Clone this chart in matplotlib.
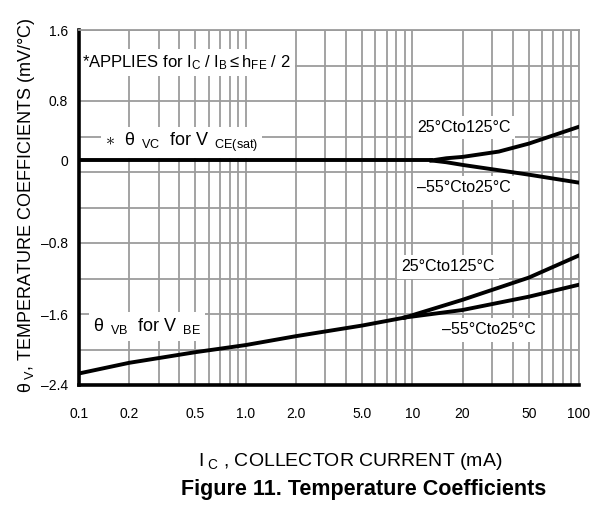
import numpy as np
import matplotlib
matplotlib.use('Agg')
import matplotlib.pyplot as plt
from matplotlib.ticker import FixedLocator, NullFormatter

plt.rcParams['font.family'] = ['Liberation Sans', 'DejaVu Sans']
plt.rcParams['mathtext.fontset'] = 'custom'
plt.rcParams['mathtext.rm'] = 'Liberation Sans'
plt.rcParams['mathtext.it'] = 'Liberation Sans'

# ==========================================
# Data
# ==========================================
# theta_VC for V_CE(sat): common part, then the two temperature branches
ic_vc = [0.1, 0.5, 1.0, 5.0, 10, 13]
vc_common = [0.13, 0.13, 0.13, 0.13, 0.13, 0.13]
ic_vc_branch = [13, 16, 20, 33, 50, 100]
vc_hot = [0.13, 0.155, 0.17, 0.23, 0.32, 0.51]     # 25C to 125C
vc_cold = [0.13, 0.11, 0.08, 0.02, -0.03, -0.12]   # -55C to 25C

# theta_VB for V_BE
ic_vb = [0.1, 0.2, 0.5, 1.0, 2.0, 5.0, 9.0]
vb_common = [-2.27, -2.15, -2.03, -1.95, -1.85, -1.73, -1.64]
ic_vb_branch = [9.0, 20, 50, 100]
vb_hot = [-1.64, -1.44, -1.19, -0.94]
vb_cold = [-1.64, -1.555, -1.405, -1.27]

x_ticks = [0.1, 0.2, 0.5, 1.0, 2.0, 5.0, 10, 20, 50, 100]
x_labels = ['0.1', '0.2', '0.5', '1.0', '2.0', '5.0', '10', '20', '50', '100']
y_ticks = [1.6, 0.8, 0.13, -0.8, -1.6, -2.4]
y_labels = ['1.6', '0.8', '0', '–0.8', '–1.6', '–2.4']
y_grid = [-2.4, -2.0, -1.6, -1.2, -0.8, -0.4, 0.0, 0.4, 0.8, 1.2, 1.6]

# ==========================================
# Plot
# ==========================================
fig = plt.figure(figsize=(5.98, 5.07), dpi=100)
ax = fig.add_axes([79 / 598, 1 - 385 / 507, 500 / 598, 355 / 507])

grid_col = '#9c9c9c'
ax.set_xscale('log')
ax.set_xlim(0.1, 100)
ax.set_ylim(-2.4, 1.6)

ax.xaxis.set_major_locator(FixedLocator(x_ticks))
ax.set_xticklabels(x_labels)
ax.xaxis.set_minor_formatter(NullFormatter())
ax.grid(axis='x', which='both', color=grid_col, lw=1.3)
for yg in y_grid:
    ax.axhline(yg, color=grid_col, lw=1.3, zorder=0.5)
ax.set_yticks(y_ticks)
ax.set_yticklabels(y_labels)
ax.tick_params(axis='both', which='both', length=0, labelsize=10)
ax.tick_params(axis='x', pad=16)
ax.tick_params(axis='y', pad=8)

for s in ['left', 'bottom']:
    ax.spines[s].set_linewidth(2.6)
    ax.spines[s].set_color('black')
for s in ['top', 'right']:
    ax.spines[s].set_linewidth(1.3)
    ax.spines[s].set_color(grid_col)

lw = 2.8
ax.plot(ic_vc, vc_common, color='black', lw=lw, zorder=3)
ax.plot(ic_vc_branch, vc_hot, color='black', lw=lw, zorder=3)
ax.plot(ic_vc_branch, vc_cold, color='black', lw=lw, zorder=3)
ax.plot(ic_vb, vb_common, color='black', lw=lw, zorder=3)
ax.plot(ic_vb_branch, vb_hot, color='black', lw=lw, zorder=3)
ax.plot(ic_vb_branch, vb_cold, color='black', lw=lw, zorder=3)

box = dict(facecolor='white', edgecolor='none', pad=3)
ax.text(0.104, 1.235, r'*APPLIES for I$_{\rm C}$ / I$_{\rm B}$$\leq$h$_{\rm FE}$ / 2',
        fontsize=12, va='center', ha='left', bbox=box, zorder=2)
ax.text(0.143, 0.33, r'$\ast$  θ$_{\rm\ \ VC}$  for V$_{\rm\ \ CE(sat)}$',
        fontsize=13, va='center', ha='left', bbox=box, zorder=2)
ax.text(0.122, -1.74, r'θ$_{\rm\ \ VB}$  for V$_{\rm\ \ BE}$',
        fontsize=13, va='center', ha='left', bbox=box, zorder=2)
ax.text(10.7, 0.5, '25°Cto125°C', fontsize=11.5, va='center', ha='left', bbox=box, zorder=2)
ax.text(10.7, -0.18, '–55°Cto25°C', fontsize=11.5, va='center', ha='left', bbox=box, zorder=2)
ax.text(8.6, -1.07, '25°Cto125°C', fontsize=11.5, va='center', ha='left', bbox=box, zorder=2)
ax.text(15.1, -1.78, '–55°Cto25°C', fontsize=11.5, va='center', ha='left', bbox=box, zorder=2)

fig.text(27 / 598, 1 - 205 / 507, r'θ$_{\rm\ V}$, TEMPERATURE COEFFICIENTS (mV/°C)',
         rotation=90, fontsize=13, ha='center', va='center')
fig.text(350 / 598, 1 - 462 / 507, r'I$_{\rm\ C}$ , COLLECTOR CURRENT (mA)',
         fontsize=14, ha='center', va='center')
fig.text(364 / 598, 1 - 489 / 507, 'Figure 11. Temperature Coefficients',
         fontsize=15.5, fontweight='bold', ha='center', va='center')

fig.savefig('out.png', dpi=100)
